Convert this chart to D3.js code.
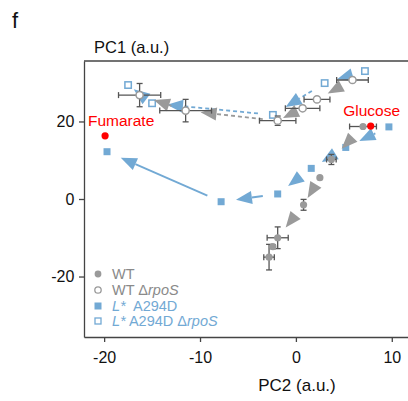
<!DOCTYPE html>
<html lang="en">
<head>
<meta charset="utf-8">
<title>PCA trajectories</title>
<script src="https://d3js.org/d3.v7.min.js"></script>
<style>
  body { margin: 0; background: #fff; }
  svg text { font-family: "Liberation Sans", Arial, sans-serif; }
</style>
</head>
<body>
<div id="chart"></div>
<script>
// values (PC2 = x, PC1 = y)
var wtX    = [7.0, 3.7, 2.5, 0.8, -1.9, -2.4, -2.8];
var wtY    = [18.7, 10.2, 5.5, -1.5, -10.0, -12.3, -15.0];
var wtXErr = [1.4, 0.5, 0, 0, 1.1, 0, 0.55];
var wtYErr = [0.3, 1.3, 0, 1.4, 2.8, 0.5, 3.3];

var wtRpoSX    = [5.9, 2.2, 0.7, -1.9, -11.5, -16.3];
var wtRpoSY    = [30.7, 25.7, 23.4, 20.2, 22.8, 26.8];
var wtRpoSXErr = [1.65, 1.35, 1.8, 1.9, 2.7, 2.2];
var wtRpoSYErr = [0.4, 0.5, 0.5, 1.2, 2.9, 3.0];

var lsX = [9.7, 5.2, 1.6, -1.9, -7.8, -19.7];
var lsY = [18.6, 13.3, 7.9, 1.3, -0.7, 12.2];

var lsRpoSX = [7.2, 3.0, -2.4, -15.0, -17.5];
var lsRpoSY = [33.0, 29.9, 21.7, 24.7, 29.4];

var carbonNames = ["Glucose", "Fumarate"];
var carbonX = [7.8, -19.9];
var carbonY = [18.8, 16.3];

var xTicks = [-20, -10, 0, 10];
var yTicks = [-20, 0, 20];

var blue = "#72a9d4", grey = "#9a9a9a", barCol = "#555";

var svg = d3.select("#chart").append("svg")
    .attr("width", 408)
    .attr("height", 401);

var x = d3.scaleLinear().domain([-22.1, 11.9]).range([84, 410]);
var y = d3.scaleLinear().domain([-35.6, 35.6]).range([337, 61]);

// frame: top line, left axis, bottom axis
svg.append("line").attr("x1", 84).attr("x2", 410).attr("y1", 61).attr("y2", 61)
  .attr("stroke", "#444").attr("stroke-width", 1.3);

var xAxis = svg.append("g").attr("transform", "translate(0,337)")
  .call(d3.axisBottom(x).tickValues(xTicks).tickSize(5).tickSizeOuter(0).tickFormat(d3.format("d")));
var yAxis = svg.append("g").attr("transform", "translate(84,0)")
  .call(d3.axisLeft(y).tickValues(yTicks).tickSize(5).tickSizeOuter(0).tickFormat(d3.format("d")));
[xAxis, yAxis].forEach(function(a) {
  a.select(".domain").attr("stroke", "#444").attr("stroke-width", 1.3);
  a.selectAll(".tick line").attr("stroke", "#444").attr("stroke-width", 1.3);
  a.selectAll(".tick text").attr("fill", "#111").style("font-size", "16px")
    .text(function(d) { return d < 0 ? "-" + Math.abs(d) : d; });
});
xAxis.selectAll(".tick text").attr("dy", "1.15em");
yAxis.selectAll(".tick text").attr("dx", "-0.1em");

svg.append("text").attr("x", 12).attr("y", 28).style("font-size", "22px").attr("fill", "#111").text("f");
svg.append("text").attr("x", 94).attr("y", 53).style("font-size", "16.5px").attr("fill", "#111").text("PC1 (a.u.)");
svg.append("text").attr("x", 297).attr("y", 391).attr("text-anchor", "middle")
  .style("font-size", "17px").attr("fill", "#111").text("PC2 (a.u.)");

function pts(xs, ys) {
  return xs.map(function(v, i) { return [x(v), y(ys[i])]; });
}

// arrow from point i toward point i+1, shortened at both ends
function arrows(p, color, dashed) {
  var g = svg.append("g");
  var s = 15, hl = 16, hw = 6.5;
  for (var i = 0; i < p.length - 1; i++) {
    var a = p[i], b = p[i + 1];
    var dx = b[0] - a[0], dy = b[1] - a[1], L = Math.hypot(dx, dy);
    if (L < 25) continue;
    var ux = dx / L, uy = dy / L, tip;
    var avail = L - 2 * s;
    if (avail >= hl) {
      tip = [b[0] - s * ux, b[1] - s * uy];
      var st = [a[0] + s * ux, a[1] + s * uy];
      var bs = [tip[0] - hl * ux, tip[1] - hl * uy];
      g.append("line").attr("x1", st[0]).attr("y1", st[1]).attr("x2", bs[0]).attr("y2", bs[1])
        .attr("stroke", color).attr("stroke-width", 1.8)
        .attr("stroke-dasharray", dashed ? "4,3" : null);
    } else {
      tip = [(a[0] + b[0]) / 2 + hl / 2 * ux, (a[1] + b[1]) / 2 + hl / 2 * uy];
    }
    var bx = tip[0] - hl * ux, by = tip[1] - hl * uy;
    g.append("polygon")
      .attr("points", [[tip[0], tip[1]], [bx - hw * uy, by + hw * ux], [bx + hw * uy, by - hw * ux]].join(" "))
      .attr("fill", color);
  }
}

function errorBars(p, ex, ey) {
  var g = svg.append("g").attr("stroke", barCol).attr("stroke-width", 1.3);
  p.forEach(function(c, i) {
    var hx = x(ex[i]) - x(0), hy = y(0) - y(ey[i]);
    if (hx > 0.5) {
      g.append("line").attr("x1", c[0] - hx).attr("x2", c[0] + hx).attr("y1", c[1]).attr("y2", c[1]);
      g.append("line").attr("x1", c[0] - hx).attr("x2", c[0] - hx).attr("y1", c[1] - 3).attr("y2", c[1] + 3);
      g.append("line").attr("x1", c[0] + hx).attr("x2", c[0] + hx).attr("y1", c[1] - 3).attr("y2", c[1] + 3);
    }
    if (hy > 0.5) {
      g.append("line").attr("x1", c[0]).attr("x2", c[0]).attr("y1", c[1] - hy).attr("y2", c[1] + hy);
      g.append("line").attr("x1", c[0] - 3).attr("x2", c[0] + 3).attr("y1", c[1] - hy).attr("y2", c[1] - hy);
      g.append("line").attr("x1", c[0] - 3).attr("x2", c[0] + 3).attr("y1", c[1] + hy).attr("y2", c[1] + hy);
    }
  });
}

var pWt = pts(wtX, wtY), pWtR = pts(wtRpoSX, wtRpoSY);
var pLs = pts(lsX, lsY), pLsR = pts(lsRpoSX, lsRpoSY);

// blue squares
svg.append("g").selectAll("rect").data(pLs).join("rect")
  .attr("x", function(d) { return d[0] - 3.5; }).attr("y", function(d) { return d[1] - 3.5; })
  .attr("width", 7).attr("height", 7).attr("fill", blue);
svg.append("g").selectAll("rect").data(pLsR).join("rect")
  .attr("x", function(d) { return d[0] - 3.2; }).attr("y", function(d) { return d[1] - 3.2; })
  .attr("width", 6.4).attr("height", 6.4).attr("fill", "#fff").attr("stroke", blue).attr("stroke-width", 1.5);

arrows(pLs, blue, false);
arrows(pLsR, blue, true);
arrows(pWt, grey, false);
arrows(pWtR, grey, true);

errorBars(pWt, wtXErr, wtYErr);
errorBars(pWtR, wtRpoSXErr, wtRpoSYErr);

svg.append("g").selectAll("circle").data(pWt).join("circle")
  .attr("cx", function(d) { return d[0]; }).attr("cy", function(d) { return d[1]; })
  .attr("r", 3.6).attr("fill", grey);
svg.append("g").selectAll("circle").data(pWtR).join("circle")
  .attr("cx", function(d) { return d[0]; }).attr("cy", function(d) { return d[1]; })
  .attr("r", 3.6).attr("fill", "#fff").attr("stroke", grey).attr("stroke-width", 1.5);

// carbon source reference points
carbonNames.forEach(function(n, i) {
  svg.append("circle").attr("cx", x(carbonX[i])).attr("cy", y(carbonY[i])).attr("r", 3.6).attr("fill", "#f00");
});
svg.append("text").attr("x", x(carbonX[0]) + 1).attr("y", y(carbonY[0]) - 10).attr("text-anchor", "middle")
  .style("font-size", "15.5px").attr("fill", "#f00").text(carbonNames[0]);
svg.append("text").attr("x", x(carbonX[1]) + 16).attr("y", y(carbonY[1]) - 10).attr("text-anchor", "middle")
  .style("font-size", "15.5px").attr("fill", "#f00").text(carbonNames[1]);

// legend
var lg = svg.append("g").style("font-size", "14.5px");
lg.append("circle").attr("cx", 98).attr("cy", 274).attr("r", 3.4).attr("fill", grey);
lg.append("circle").attr("cx", 98).attr("cy", 290).attr("r", 3.2).attr("fill", "#fff").attr("stroke", grey).attr("stroke-width", 1.3);
lg.append("rect").attr("x", 94.5).attr("y", 302.5).attr("width", 7).attr("height", 7).attr("fill", blue);
lg.append("rect").attr("x", 95).attr("y", 318).attr("width", 6).attr("height", 6).attr("fill", "#fff").attr("stroke", blue).attr("stroke-width", 1.3);

lg.append("text").attr("x", 112).attr("y", 279).attr("fill", "#8a8a8a").text("WT");
var t2 = lg.append("text").attr("x", 112).attr("y", 295).attr("fill", "#8a8a8a");
t2.append("tspan").text("WT \u0394");
t2.append("tspan").style("font-style", "italic").text("rpoS");
var t3 = lg.append("text").attr("x", 112).attr("y", 311).attr("fill", blue);
t3.append("tspan").style("font-style", "italic").text("L*");
t3.append("tspan").text("\u00a0 A294D");
var t4 = lg.append("text").attr("x", 112).attr("y", 326).attr("fill", blue);
t4.append("tspan").style("font-style", "italic").text("L*");
t4.append("tspan").text(" A294D \u0394");
t4.append("tspan").style("font-style", "italic").text("rpoS");
</script>
</body>
</html>
